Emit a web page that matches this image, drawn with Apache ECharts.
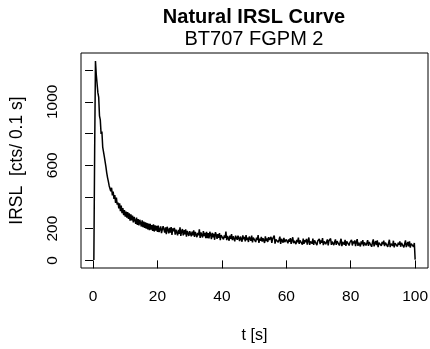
<!DOCTYPE html>
<html>
<head>
<meta charset="utf-8">
<script src="https://cdn.jsdelivr.net/npm/echarts@6/dist/echarts.min.js"></script>
<style>html,body{margin:0;padding:0;background:#fff;}#c{width:430px;height:349px;}</style>
</head>
<body>
<div id="c"></div>
<script>
const mainTitle = "Natural IRSL Curve";
const subTitle = "BT707 FGPM 2";
const xName = "t [s]";
const yName = "IRSL  [cts/ 0.1 s]";
const xTicks = [0, 20, 40, 60, 80, 100];
const yTicks = [0, 200, 400, 600, 800, 1000, 1200];
const yTickLabels = [0, 200, 600, 1000];
const channelStep = 0.25; // s per plotted channel
const counts = [
  2, 690, 1258, 1172, 1160, 1058, 1030, 912, 886, 798, 812, 715, 726, 655, 648, 590, 552, 522, 498, 471,
  480, 436, 458, 410, 434, 388, 412, 362, 396, 352, 365, 328, 360, 310, 346, 298, 330, 286, 318, 276,
  308, 270, 305, 262, 296, 250, 290, 252, 283, 240, 274, 262, 230, 270, 224, 260, 220, 256, 246, 214,
  252, 210, 244, 205, 240, 200, 236, 196, 232, 190, 230, 194, 222, 186, 228, 182, 221, 188, 218, 180,
  220, 178, 190, 214, 172, 170, 216, 196, 176, 208, 166, 212, 192, 170, 205, 175, 210, 160, 202, 184,
  205, 162, 194, 200, 158, 192, 168, 208, 155, 184, 198, 158, 190, 165, 196, 150, 186, 194, 154, 184,
  192, 152, 182, 158, 190, 148, 180, 188, 146, 174, 158, 196, 142, 176, 170, 145, 184, 154, 174, 140,
  180, 140, 172, 138, 180, 164, 134, 174, 146, 168, 130, 178, 162, 136, 166, 142, 172, 128, 160, 158,
  170, 132, 158, 142, 182, 128, 154, 162, 124, 156, 136, 166, 128, 152, 160, 120, 156, 146, 130, 156,
  162, 122, 150, 136, 118, 158, 134, 148, 120, 160, 128, 144, 116, 150, 140, 124, 156, 114, 144, 138,
  154, 116, 144, 128, 160, 110, 138, 124, 148, 118, 140, 134, 110, 152, 122, 138, 116, 146, 130, 120,
  148, 110, 136, 124, 156, 106, 132, 120, 144, 114, 130, 150, 104, 136, 126, 112, 142, 116, 128, 132,
  142, 108, 132, 118, 140, 104, 128, 146, 108, 124, 136, 102, 130, 114, 144, 104, 126, 118, 136, 100,
  138, 104, 128, 114, 136, 100, 124, 144, 98, 120, 132, 106, 138, 98, 126, 114, 134, 96, 122, 112,
  136, 102, 126, 112, 140, 96, 120, 130, 102, 118, 132, 94, 124, 112, 138, 98, 118, 128, 96, 116,
  132, 98, 122, 110, 128, 94, 118, 136, 90, 116, 126, 100, 130, 92, 120, 110, 126, 94, 114, 108,
  130, 94, 120, 106, 126, 90, 116, 134, 92, 112, 124, 88, 120, 102, 128, 90, 114, 126, 94, 110,
  128, 92, 116, 104, 124, 86, 114, 132, 88, 108, 122, 96, 126, 84, 112, 104, 124, 92, 116, 102,
  124, 90, 112, 102, 120, 86, 110, 130, 84, 106, 118, 92, 124, 82, 108, 100, 120, 88, 112, 98,
  120, 86, 110, 98, 118, 82, 106, 126, 84, 102, 116, 88, 120, 80, 106, 96, 118, 86, 110, 5
];
const times = counts.map((_, i) => +((i + 1) * channelStep).toFixed(2));

const FONT = "'Liberation Sans', Arial, Helvetica, sans-serif";
const chart = echarts.init(document.getElementById('c'), null, {renderer: 'canvas'});
chart.setOption({
  animation: false,
  backgroundColor: '#fff',
  textStyle: {fontFamily: FONT, color: '#000'},
  title: [
    {text: mainTitle, left: 254, top: 7, padding: 0, textAlign: 'center',
     textStyle: {fontFamily: FONT, fontSize: 20, fontWeight: 'bold', color: '#000'}},
    {text: subTitle, left: 254, top: 29, padding: 0, textAlign: 'center',
     textStyle: {fontFamily: FONT, fontSize: 20, fontWeight: 'normal', color: '#000'}}
  ],
  grid: {left: 81, right: 2, top: 53, bottom: 81, outerBoundsMode: 'none', containLabel: false,
         show: true, borderColor: '#000', borderWidth: 1, backgroundColor: 'transparent'},
  xAxis: {
    type: 'value', min: -3.74, max: 103.99,
    name: xName, nameLocation: 'middle', nameGap: 60,
    nameTextStyle: {fontFamily: FONT, fontSize: 16, color: '#000'},
    axisLine: {show: false},
    axisTick: {show: true, inside: false, length: 8, customValues: xTicks, lineStyle: {color: '#000', width: 1}},
    axisLabel: {show: true, margin: 21, fontSize: 15.5, color: '#000', fontFamily: FONT, customValues: xTicks,
                formatter: v => String(v)},
    splitLine: {show: false}
  },
  yAxis: {
    type: 'value', min: -48, max: 1308,
    name: yName, nameLocation: 'middle', nameGap: 55, nameRotate: 90,
    nameTextStyle: {fontFamily: FONT, fontSize: 17.5, color: '#000'},
    axisLine: {show: false},
    axisTick: {show: true, inside: false, length: 8, customValues: yTicks, lineStyle: {color: '#000', width: 1}},
    axisLabel: {show: true, margin: 20, rotate: 90, fontSize: 15.5, color: '#000', fontFamily: FONT, customValues: yTickLabels,
                formatter: v => String(v)},
    splitLine: {show: false}
  },
  series: [{
    type: 'line',
    data: times.map((t, i) => [t, counts[i]]),
    showSymbol: false,
    symbol: 'none',
    sampling: null,
    lineStyle: {color: '#000', width: 1.5},
    silent: true
  }]
});
</script>
</body>
</html>
